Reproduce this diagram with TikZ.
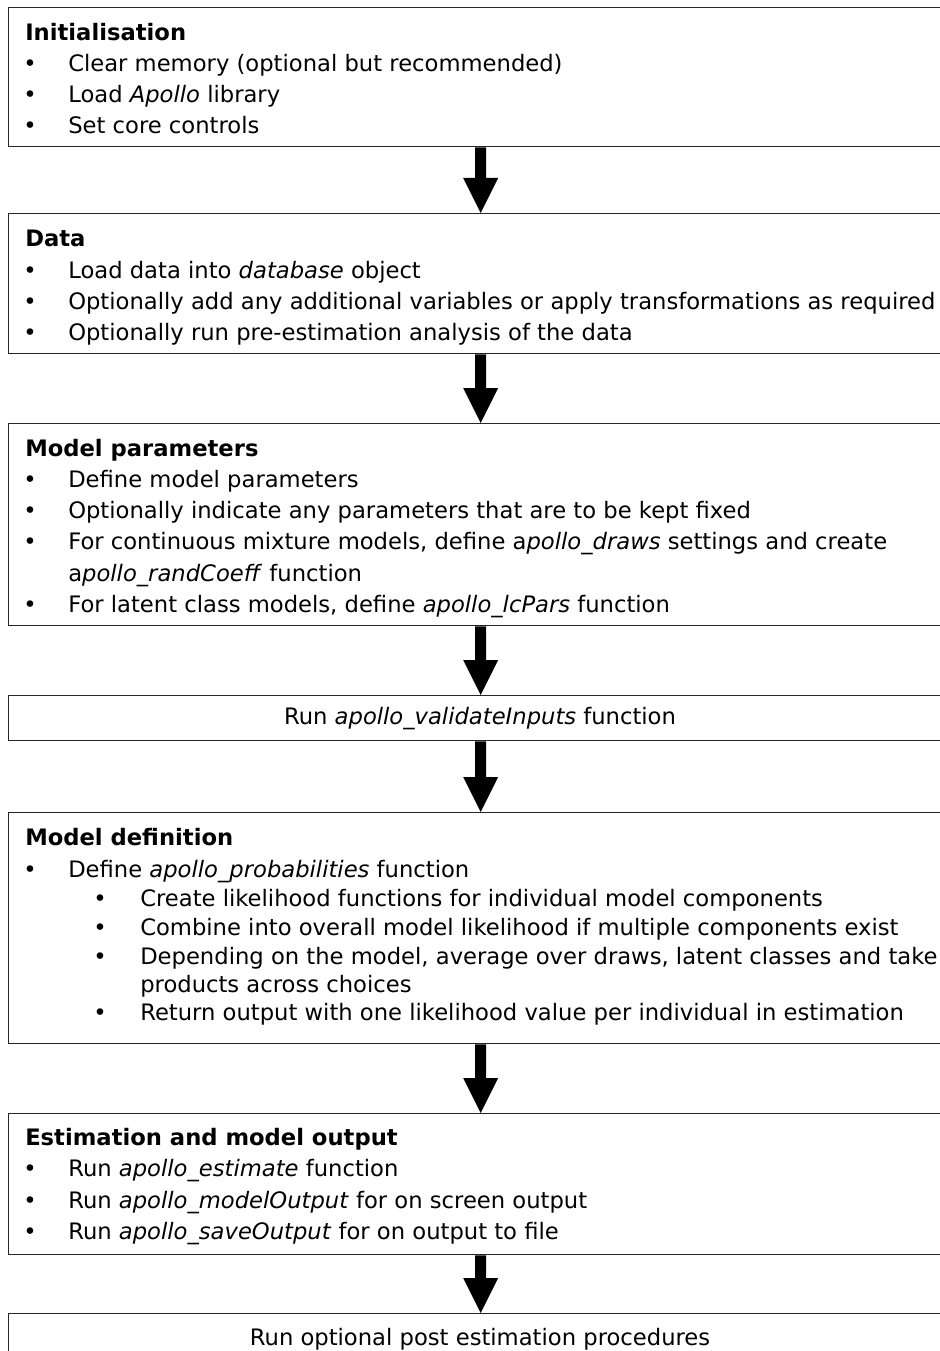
\documentclass[tikz,border=0pt]{standalone}
\usepackage{fontspec}
\setmainfont{DejaVu Sans}
\usetikzlibrary{calc}
\tikzset{
  box/.style={draw=black!85, line width=1.1pt, anchor=north west, inner sep=0pt, minimum width=944*0.75pt},
  txt/.style={anchor=base west, inner sep=0pt, font=\fontsize{17}{20}\selectfont},
  ttl/.style={anchor=base west, inner sep=0pt, font=\fontsize{17}{20}\selectfont\bfseries},
  ctr/.style={anchor=base, inner sep=0pt, font=\fontsize{17}{20}\selectfont},
  bul/.style={anchor=base, inner sep=0pt, font=\fontsize{17}{20}\selectfont},
  arrowfill/.style={fill=black}
}
\newcommand\bitem[3]{\node[bul] (#1b) at (30,#2) {•}; \node[txt] (#1) at (68,#2) {#3};}
\newcommand\sitem[3]{\node[bul] (#1b) at (100,#2) {•}; \node[txt] (#1) at (140,#2) {#3};}
\newcommand\flowarrow[2]{\fill[arrowfill] ($(#1.south)+(-5.5,0)$) -- ($(#1.south)+(5.5,0)$) -- ($(#2.north)+(5.5,-35)$) -- ($(#2.north)+(17.5,-35)$) -- (#2.north) -- ($(#2.north)+(-17.5,-35)$) -- ($(#2.north)+(-5.5,-35)$) -- cycle;}
\begin{document}
\begin{tikzpicture}[x=0.75pt,y=-0.75pt]
\useasboundingbox (0,0) rectangle (939,1351);
% boxes
\node[box, minimum height=139*0.75pt] (b1) at (8,7) {};
\node[box, minimum height=140*0.75pt] (b2) at (8,213) {};
\node[box, minimum height=202*0.75pt] (b3) at (8,423) {};
\node[box, minimum height=45*0.75pt] (b4) at (8,695) {};
\node[box, minimum height=231*0.75pt] (b5) at (8,812) {};
\node[box, minimum height=141*0.75pt] (b6) at (8,1113) {};
\node[box, minimum height=60*0.75pt] (b7) at (8,1313) {};
% arrows
\flowarrow{b1}{b2}
\flowarrow{b2}{b3}
\flowarrow{b3}{b4}
\flowarrow{b4}{b5}
\flowarrow{b5}{b6}
\flowarrow{b6}{b7}
% box 1
\node[ttl] (t1) at (25,41) {Initialisation};
\bitem{t1a}{72}{Clear memory (optional but recommended)}
\bitem{t1b}{103}{Load \textit{Apollo} library}
\bitem{t1c}{134}{Set core controls}
% box 2
\node[ttl] (t2) at (25,247) {Data};
\bitem{t2a}{279}{Load data into \textit{database} object}
\bitem{t2b}{310}{Optionally add any additional variables or apply transformations as required}
\bitem{t2c}{341}{Optionally run pre-estimation analysis of the data}
% box 3
\node[ttl] (t3) at (25,456) {Model parameters};
\bitem{t3a}{487}{Define model parameters}
\bitem{t3b}{518}{Optionally indicate any parameters that are to be kept fixed}
\bitem{t3c}{549}{For continuous mixture models, define a\textit{pollo\_draws} settings and create}
\node[txt] (t3d) at (68,581) {a\textit{pollo\_randCoeff} function};
\bitem{t3e}{612}{For latent class models, define \textit{apollo\_lcPars} function}
% box 4
\node[ctr] (t4) at (480,724) {Run \textit{apollo\_validateInputs} function};
% box 5
\node[ttl] (t5) at (25,845) {Model definition};
\bitem{t5a}{877}{Define \textit{apollo\_probabilities} function}
\sitem{t5b}{906}{Create likelihood functions for individual model components}
\sitem{t5c}{935}{Combine into overall model likelihood if multiple components exist}
\sitem{t5d}{964}{Depending on the model, average over draws, latent classes and take}
\node[txt] (t5e) at (140,992) {products across choices};
\sitem{t5f}{1020}{Return output with one likelihood value per individual in estimation}
% box 6
\node[ttl] (t6) at (25,1145) {Estimation and model output};
\bitem{t6a}{1176}{Run \textit{apollo\_estimate} function}
\bitem{t6b}{1208}{Run \textit{apollo\_modelOutput} for on screen output}
\bitem{t6c}{1239}{Run \textit{apollo\_saveOutput} for on output to file}
% box 7
\node[ctr] (t7) at (480,1345) {Run optional post estimation procedures};
\end{tikzpicture}
\end{document}
